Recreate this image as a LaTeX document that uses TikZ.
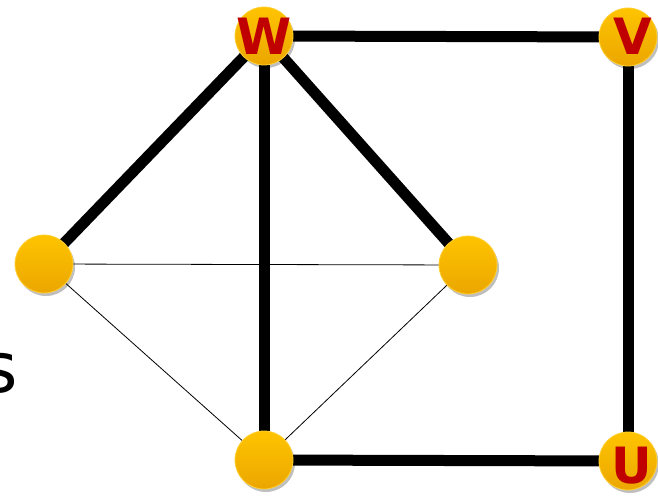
\documentclass[tikz,border=0pt]{standalone}
\usepackage{fontspec}
\setmainfont{DejaVu Sans}
\usetikzlibrary{shadows}
\pgfdeclarelayer{bg}
\pgfsetlayers{bg,main}
\definecolor{ballTop}{HTML}{FFC400}
\definecolor{ballBot}{HTML}{EBA600}
\definecolor{lblRed}{HTML}{C00000}
\tikzset{
  ball/.style={circle, minimum size=58pt, inner sep=0pt, top color=ballTop, bottom color=ballBot,
    draw=ballTop!80!white, line width=0.8pt,
    drop shadow={shadow xshift=2pt, shadow yshift=-3pt, opacity=0.25, fill=black}},
  lbl/.style={text=lblRed, anchor=base, inner sep=0pt, font=\fontsize{50}{50}\selectfont\bfseries},
  thick edge/.style={line width=11pt, black},
  thin edge/.style={line width=0.8pt, black}
}
\begin{document}
\begin{tikzpicture}[x=1pt,y=-1pt]
\useasboundingbox (0,0) rectangle (658,495);
\clip (0,0) rectangle (658,495);
\node[ball] (w) at (264,36) {};
\node[ball] (v) at (628,37) {};
\node[ball] (l) at (44,264) {};
\node[ball] (r) at (468,265) {};
\node[ball] (b) at (264,460) {};
\node[ball] (u) at (628,461) {};
\node[lbl] (wl) at (264.5,55) {W};
\node[lbl] (vl) at (633,55) {V};
\node[lbl] (ul) at (632,483) {U};
\node[anchor=base east, inner sep=0pt, font=\fontsize{70}{70}\selectfont] (s) at (18,392) {s};
\begin{pgfonlayer}{bg}
\draw[thick edge] (w.center) -- (v.center);
\draw[thick edge] (v.center) -- (u.center);
\draw[thick edge] (u.center) -- (b.center);
\draw[thick edge] (w.center) -- (b.center);
\draw[thick edge] (w.center) -- (l.center);
\draw[thick edge] (w.center) -- (r.center);
\draw[thin edge] (l.center) -- (r.center);
\draw[thin edge] (l.center) -- (b.center);
\draw[thin edge] (r.center) -- (b.center);
\end{pgfonlayer}
\end{tikzpicture}
\end{document}
